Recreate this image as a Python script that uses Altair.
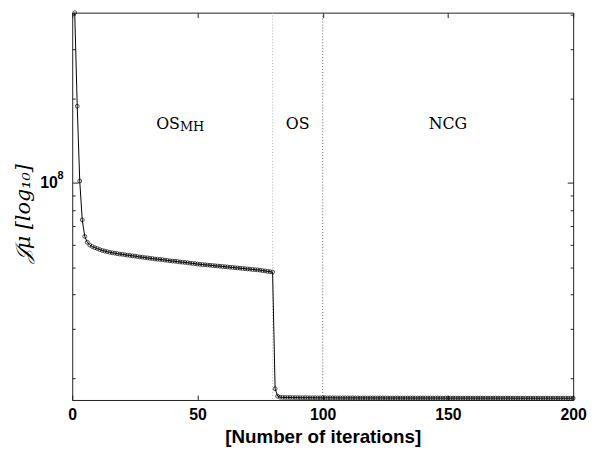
import altair as alt
import pandas as pd

# ---- data ----
iterations = list(range(1, 201))
cost_1e6 = [
    406, 188, 101.6, 73.8, 64.4, 61.4, 60.0, 59.3, 58.7, 58.3,
    57.8, 57.4, 57.1, 56.8, 56.5, 56.3, 56.1, 55.9, 55.7, 55.6,
    55.4, 55.2, 55.1, 54.9, 54.8, 54.6, 54.4, 54.3, 54.1, 54.0,
    53.8, 53.7, 53.5, 53.4, 53.3, 53.2, 53.0, 52.9, 52.7, 52.6,
    52.5, 52.4, 52.2, 52.1, 52.0, 51.9, 51.7, 51.6, 51.5, 51.3,
    51.2, 51.1, 51.0, 50.9, 50.8, 50.7, 50.6, 50.5, 50.4, 50.3,
    50.2, 50.1, 50.0, 49.9, 49.8, 49.7, 49.6, 49.5, 49.4, 49.3,
    49.2, 49.1, 49.0, 48.9, 48.8, 48.6, 48.5, 48.3, 48.2, 48.0,
    18.4, 17.3, 17.15, 17.13, 17.12, 17.12, 17.11, 17.11, 17.10, 17.10,
    17.09, 17.09, 17.09, 17.08, 17.08, 17.08, 17.08, 17.07, 17.07, 17.07,
    17.07, 17.07, 17.07, 17.07, 17.06, 17.06, 17.06, 17.06, 17.06, 17.06,
    17.06, 17.06, 17.05, 17.05, 17.05, 17.05, 17.05, 17.05, 17.05, 17.05,
    17.05, 17.05, 17.05, 17.05, 17.05, 17.04, 17.04, 17.04, 17.04, 17.04,
    17.04, 17.04, 17.04, 17.04, 17.04, 17.04, 17.04, 17.04, 17.04, 17.04,
    17.04, 17.04, 17.04, 17.04, 17.04, 17.04, 17.03, 17.03, 17.03, 17.03,
    17.03, 17.03, 17.03, 17.03, 17.03, 17.03, 17.03, 17.03, 17.03, 17.03,
    17.03, 17.03, 17.03, 17.03, 17.03, 17.03, 17.03, 17.03, 17.03, 17.03,
    17.03, 17.03, 17.03, 17.03, 17.03, 17.02, 17.02, 17.02, 17.02, 17.02,
    17.02, 17.02, 17.02, 17.02, 17.02, 17.02, 17.02, 17.02, 17.02, 17.02,
    17.02, 17.02, 17.02, 17.02, 17.02, 17.02, 17.02, 17.02, 17.02, 17.02,
]
y_domain = [16.77e6, 406e6]
x_ticks = [0, 50, 100, 150, 200]
y_major = [1e8]
y_minor = [2e7, 3e7, 4e7, 5e7, 6e7, 7e7, 8e7, 9e7, 2e8, 3e8, 4e8]
y_major_base = "10"
y_major_exp = "8"

phase_bounds = [80, 100]
bound_colors = ["#b5b5b5", "#666666"]

phase_main = ["OS", "OS", "NCG"]
phase_main_x = [43, 90, 150]
phase_main_align = ["right", "center", "center"]
phase_sub = ["MH"]
phase_sub_x = [43]
label_y = 1.565e8

df = pd.DataFrame({"it": iterations, "J": [v * 1e6 for v in cost_1e6]})
bounds = pd.DataFrame({"it": phase_bounds, "c": bound_colors})
lab = pd.DataFrame({"it": phase_main_x, "J": [label_y] * 3, "t": phase_main, "a": phase_main_align})
sub = pd.DataFrame({"it": phase_sub_x, "J": [label_y], "t": phase_sub})
expo = pd.DataFrame({"it": [0], "J": y_major, "t": [y_major_exp]})

xs = alt.Scale(domain=[0, 200], nice=False, zero=False)
ys = alt.Scale(type="log", domain=y_domain, nice=False)

TC = "#222222"
SERIF = "DejaVu Serif"


def hidden(yaxis, xaxis):
    return alt.Chart(df).mark_point(opacity=0).encode(
        x=alt.X("it:Q", scale=xs, axis=xaxis),
        y=alt.Y("J:Q", scale=ys, axis=yaxis),
    )


main_y = alt.Axis(
    orient="left", values=y_major, labelExpr="'%s'" % y_major_base, tickSize=6, offset=-6,
    domain=False, grid=False, labelPadding=15, labelFont="Liberation Sans",
    labelFontSize=16, labelFontWeight="bold", labelColor="black", tickColor=TC,
    title="𝒥μ  [log₁₀]", titleFont=SERIF, titleFontSize=21, titleFontStyle="italic",
    titleFontWeight="normal", titleColor="black", titlePadding=6, titleY=203,
)
main_x = alt.Axis(
    orient="bottom", values=x_ticks, tickSize=5, offset=-5, domain=False,
    grid=False, labelPadding=7, labelFont="Liberation Sans", labelFontSize=16,
    labelFontWeight="bold", labelFlush=False,
    labelColor="black", tickColor=TC, format="d",
    title="[Number of iterations]", titleFont="Liberation Sans", titleFontSize=19,
    titleFontWeight="bold", titleColor="black", titlePadding=5,
)

line = alt.Chart(df).mark_line(color="black", strokeWidth=1).encode(
    x=alt.X("it:Q", scale=xs, axis=main_x),
    y=alt.Y("J:Q", scale=ys, axis=main_y),
)
pts = alt.Chart(df).mark_point(
    shape="circle", filled=False, size=15, color="black", strokeWidth=1
).encode(
    x=alt.X("it:Q", scale=xs, axis=None),
    y=alt.Y("J:Q", scale=ys, axis=None),
)
rules = alt.Chart(bounds).mark_rule(strokeWidth=1, strokeDash=[1, 2]).encode(
    x=alt.X("it:Q", scale=xs, axis=None),
    color=alt.Color("c:N", scale=None),
)
txt_left = alt.Chart(lab[lab["a"] == "right"]).mark_text(
    font=SERIF, fontSize=16, baseline="alphabetic", color="black", align="right"
).encode(
    x=alt.X("it:Q", scale=xs, axis=None),
    y=alt.Y("J:Q", scale=ys, axis=None),
    text="t:N",
)
txt_center = alt.Chart(lab[lab["a"] == "center"]).mark_text(
    font=SERIF, fontSize=16, baseline="alphabetic", color="black", align="center"
).encode(
    x=alt.X("it:Q", scale=xs, axis=None),
    y=alt.Y("J:Q", scale=ys, axis=None),
    text="t:N",
)
txt_sub = alt.Chart(sub).mark_text(
    font=SERIF, fontSize=13, baseline="alphabetic", color="black",
    align="left", dy=3,
).encode(
    x=alt.X("it:Q", scale=xs, axis=None),
    y=alt.Y("J:Q", scale=ys, axis=None),
    text="t:N",
)
txt_exp = alt.Chart(expo).mark_text(
    font="Liberation Sans", fontSize=11, fontWeight="bold", baseline="alphabetic",
    color="black", align="left", dx=-15, dy=-4,
).encode(
    x=alt.X("it:Q", scale=xs, axis=None),
    y=alt.Y("J:Q", scale=ys, axis=None),
    text="t:N",
)

left_minor = hidden(
    alt.Axis(orient="left", values=y_minor, tickSize=3, offset=-3, labels=False,
             domain=False, grid=False, title=None, tickColor=TC),
    None,
)
right_minor = hidden(
    alt.Axis(orient="right", values=y_minor, tickSize=3, offset=-3, labels=False,
             domain=False, grid=False, title=None, tickColor=TC),
    alt.Axis(orient="top", values=x_ticks, tickSize=5, offset=-5, labels=False,
             domain=False, grid=False, title=None, tickColor=TC),
)
right_major = hidden(
    alt.Axis(orient="right", values=y_major, tickSize=6, offset=-6, labels=False,
             domain=False, grid=False, title=None, tickColor=TC),
    None,
)

chart = (
    alt.layer(rules, line, pts, txt_left, txt_center, txt_sub, txt_exp,
              left_minor, right_minor, right_major)
    .resolve_axis(x="independent", y="independent")
    .properties(
        width=507, height=392,
        autosize=alt.AutoSizeParams(type="none"),
        padding={"left": 65, "top": 2, "right": 14, "bottom": 55},
        background="white",
    )
    .configure_view(stroke=TC, strokeWidth=1)
)

chart.save("out.html", embed_options={"renderer": "svg", "actions": False})
